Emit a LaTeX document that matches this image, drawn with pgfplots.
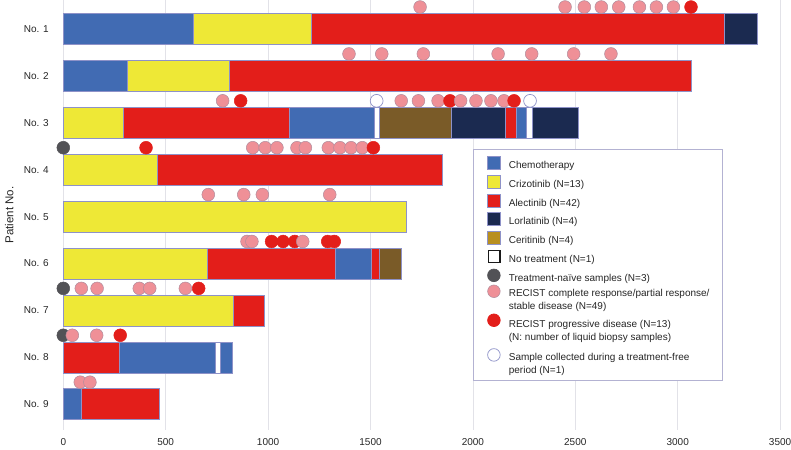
\documentclass[border=0pt]{standalone}
\usepackage{fontspec}
\setmainfont{Liberation Sans}
\usepackage{pgfplots}
\pgfplotsset{compat=1.18}
\usepackage{pgfplotstable}

\definecolor{cBlue}{HTML}{416BB3}
\definecolor{cYel}{HTML}{EEE836}
\definecolor{cRed}{HTML}{E31E1A}
\definecolor{cNavy}{HTML}{1B2A50}
\definecolor{cBrown}{HTML}{7A5B28}
\definecolor{cGold}{HTML}{B88F1F}
\definecolor{cPink}{HTML}{EF9097}
\definecolor{cPinkE}{HTML}{B08C9C}
\definecolor{cGray}{HTML}{525256}
\definecolor{cLine}{HTML}{8E92C8}
\definecolor{cGrid}{HTML}{E2E2E8}
\definecolor{cLeg}{HTML}{B3B2D2}

\pgfplotstableread{
x y c
1742 0.53 p
2450 0.53 p
2544 0.53 p
2627 0.53 p
2712 0.53 p
2813 0.53 p
2896 0.53 p
2979 0.53 p
3065 0.53 r
1395 1.53 p
1555 1.53 p
1758 1.53 p
2123 1.53 p
2287 1.53 p
2492 1.53 p
2674 1.53 p
778 2.53 p
866 2.53 r
1530 2.53 w
1650 2.53 p
1734 2.53 p
1830 2.53 p
1888 2.53 r
1940 2.53 p
2015 2.53 p
2088 2.53 p
2152 2.53 p
2201 2.53 r
2279 2.53 w
0 3.53 g
404 3.53 r
925 3.53 p
986 3.53 p
1043 3.53 p
1141 3.53 p
1182 3.53 p
1294 3.53 p
1351 3.53 p
1405 3.53 p
1460 3.53 p
1514 3.53 r
708 4.53 p
881 4.53 p
972 4.53 p
1301 4.53 p
897 5.53 p
921 5.53 p
1017 5.53 r
1073 5.53 r
1130 5.53 r
1169 5.53 p
1291 5.53 r
1323 5.53 r
0 6.53 g
88 6.53 p
165 6.53 p
371 6.53 p
422 6.53 p
596 6.53 p
661 6.53 r
0 7.53 g
44 7.53 p
163 7.53 p
278 7.53 r
83 8.53 p
130 8.53 p
}\samples

\begin{document}
\begin{tikzpicture}
\useasboundingbox (-63.3pt,-19pt) rectangle (727.7pt,430pt);
\begin{axis}[
  scale only axis, width=716.8pt, height=430pt,
  xmin=0, xmax=3500, ymin=0.38, ymax=9.55, y dir=reverse,
  clip=false,
  axis line style={draw=none},
  major tick length=0pt,
  xtick={0,500,...,3500},
  ytick={1,2,3,4,5,6,7,8,9},
  yticklabels={No. 1,No. 2,No. 3,No. 4,No. 5,No. 6,No. 7,No. 8,No. 9},
  xmajorgrids=true, ymajorgrids=false,
  grid style={draw=cGrid, line width=0.7pt},
  /pgf/number format/assume math mode=true,
  /pgf/number format/1000 sep={},
  tick label style={font=\fontsize{10}{12}\selectfont, text=black!85},
  xticklabel style={yshift=-4.5pt},
  yticklabel style={xshift=-11pt},
  ylabel={Patient No.},
  ylabel style={at={(axis description cs:-0.0755,0.5)}, anchor=center, rotate=0, font=\fontsize{11.5}{13}\selectfont, text=black!85},
  seg/.style={forget plot, draw=cLine, line width=0.55pt, mark=none},
  legend cell align=left,
  legend style={at={(axis cs:2000,3.56)}, anchor=north west, draw=cLeg, line width=0.7pt,
    inner xsep=11pt, inner ysep=4pt, row sep=0pt, column sep=6pt,
    font=\fontsize{10}{13}\selectfont, text=black!85,
    cells={anchor=west, inner sep=0pt, align=left}},
]
% No. 1
\addplot[seg, fill=cBlue] coordinates {(0,0.67) (637,0.67) (637,1.33) (0,1.33)} --cycle;
\addplot[seg, fill=cYel] coordinates {(637,0.67) (1211,0.67) (1211,1.33) (637,1.33)} --cycle;
\addplot[seg, fill=cRed] coordinates {(1211,0.67) (3228,0.67) (3228,1.33) (1211,1.33)} --cycle;
\addplot[seg, fill=cNavy] coordinates {(3228,0.67) (3387,0.67) (3387,1.33) (3228,1.33)} --cycle;
% No. 2
\addplot[seg, fill=cBlue] coordinates {(0,1.67) (313,1.67) (313,2.33) (0,2.33)} --cycle;
\addplot[seg, fill=cYel] coordinates {(313,1.67) (808,1.67) (808,2.33) (313,2.33)} --cycle;
\addplot[seg, fill=cRed] coordinates {(808,1.67) (3068,1.67) (3068,2.33) (808,2.33)} --cycle;
% No. 3
\addplot[seg, fill=cYel] coordinates {(0,2.67) (293,2.67) (293,3.33) (0,3.33)} --cycle;
\addplot[seg, fill=cRed] coordinates {(293,2.67) (1104,2.67) (1104,3.33) (293,3.33)} --cycle;
\addplot[seg, fill=cBlue] coordinates {(1104,2.67) (1519,2.67) (1519,3.33) (1104,3.33)} --cycle;
\addplot[seg, fill=white] coordinates {(1519,2.67) (1543,2.67) (1543,3.33) (1519,3.33)} --cycle;
\addplot[seg, fill=cBrown] coordinates {(1543,2.67) (1895,2.67) (1895,3.33) (1543,3.33)} --cycle;
\addplot[seg, fill=cNavy] coordinates {(1895,2.67) (2158,2.67) (2158,3.33) (1895,3.33)} --cycle;
\addplot[seg, fill=cRed] coordinates {(2158,2.67) (2211,2.67) (2211,3.33) (2158,3.33)} --cycle;
\addplot[seg, fill=cBlue] coordinates {(2211,2.67) (2263,2.67) (2263,3.33) (2211,3.33)} --cycle;
\addplot[seg, fill=white] coordinates {(2263,2.67) (2292,2.67) (2292,3.33) (2263,3.33)} --cycle;
\addplot[seg, fill=cNavy] coordinates {(2292,2.67) (2515,2.67) (2515,3.33) (2292,3.33)} --cycle;
% No. 4
\addplot[seg, fill=cYel] coordinates {(0,3.67) (461,3.67) (461,4.33) (0,4.33)} --cycle;
\addplot[seg, fill=cRed] coordinates {(461,3.67) (1851,3.67) (1851,4.33) (461,4.33)} --cycle;
% No. 5
\addplot[seg, fill=cYel] coordinates {(0,4.67) (1675,4.67) (1675,5.33) (0,5.33)} --cycle;
% No. 6
\addplot[seg, fill=cYel] coordinates {(0,5.67) (705,5.67) (705,6.33) (0,6.33)} --cycle;
\addplot[seg, fill=cRed] coordinates {(705,5.67) (1327,5.67) (1327,6.33) (705,6.33)} --cycle;
\addplot[seg, fill=cBlue] coordinates {(1327,5.67) (1506,5.67) (1506,6.33) (1327,6.33)} --cycle;
\addplot[seg, fill=cRed] coordinates {(1506,5.67) (1542,5.67) (1542,6.33) (1506,6.33)} --cycle;
\addplot[seg, fill=cBrown] coordinates {(1542,5.67) (1649,5.67) (1649,6.33) (1542,6.33)} --cycle;
% No. 7
\addplot[seg, fill=cYel] coordinates {(0,6.67) (832,6.67) (832,7.33) (0,7.33)} --cycle;
\addplot[seg, fill=cRed] coordinates {(832,6.67) (979,6.67) (979,7.33) (832,7.33)} --cycle;
% No. 8
\addplot[seg, fill=cRed] coordinates {(0,7.67) (272,7.67) (272,8.33) (0,8.33)} --cycle;
\addplot[seg, fill=cBlue] coordinates {(272,7.67) (742,7.67) (742,8.33) (272,8.33)} --cycle;
\addplot[seg, fill=white] coordinates {(742,7.67) (768,7.67) (768,8.33) (742,8.33)} --cycle;
\addplot[seg, fill=cBlue] coordinates {(768,7.67) (827,7.67) (827,8.33) (768,8.33)} --cycle;
% No. 9
\addplot[seg, fill=cBlue] coordinates {(0,8.67) (88,8.67) (88,9.33) (0,9.33)} --cycle;
\addplot[seg, fill=cRed] coordinates {(88,8.67) (471,8.67) (471,9.33) (88,9.33)} --cycle;
% samples
\addplot[forget plot, scatter, only marks, scatter src=explicit symbolic, mark size=6.4pt,
  scatter/classes={
    p={mark=*, draw=cPinkE, fill=cPink, line width=0.5pt},
    r={mark=*, draw=cRed, fill=cRed, line width=0.5pt},
    g={mark=*, draw=cGray, fill=cGray, line width=0.5pt},
    w={mark=*, draw=cLine, fill=white, line width=0.7pt}}]
  table[x=x, y=y, meta=c] {\samples};
% legend
\addlegendimage{legend image code/.code={\path (-3pt,0pt); \draw[fill=cBlue, draw=cLine, line width=0.5pt] (0pt,-6.5pt) rectangle (13pt,6.5pt);}}
\addlegendentry{\rule[-6.25pt]{0pt}{19.5pt}Chemotherapy}
\addlegendimage{legend image code/.code={\path (-3pt,0pt); \draw[fill=cYel, draw=cLine, line width=0.5pt] (0pt,-6.5pt) rectangle (13pt,6.5pt);}}
\addlegendentry{\rule[-6.25pt]{0pt}{19.5pt}Crizotinib (N=13)}
\addlegendimage{legend image code/.code={\path (-3pt,0pt); \draw[fill=cRed, draw=cLine, line width=0.5pt] (0pt,-6.5pt) rectangle (13pt,6.5pt);}}
\addlegendentry{\rule[-6.25pt]{0pt}{19.5pt}Alectinib (N=42)}
\addlegendimage{legend image code/.code={\path (-3pt,0pt); \draw[fill=cNavy, draw=cLine, line width=0.5pt] (0pt,-6.5pt) rectangle (13pt,6.5pt);}}
\addlegendentry{\rule[-6.25pt]{0pt}{19.5pt}Lorlatinib (N=4)}
\addlegendimage{legend image code/.code={\path (-3pt,0pt); \draw[fill=cGold, draw=cLine, line width=0.5pt] (0pt,-6.5pt) rectangle (13pt,6.5pt);}}
\addlegendentry{\rule[-6.25pt]{0pt}{19.5pt}Ceritinib (N=4)}
\addlegendimage{legend image code/.code={\path (-3pt,0pt); \draw[fill=white, draw=black!90, line width=1.3pt] (0.6pt,-5.9pt) rectangle (12.4pt,5.9pt);}}
\addlegendentry{\rule[-6.25pt]{0pt}{19.5pt}No treatment (N=1)}
\addlegendimage{legend image code/.code={\path (-3pt,0pt); \draw[fill=cGray, draw=cGray] (6.3pt,0pt) circle (6.3pt);}}
\addlegendentry{\rule[-6.25pt]{0pt}{19.5pt}Treatment-naïve samples (N=3)}
\addlegendimage{legend image code/.code={\path (-3pt,0pt); \draw[fill=cPink, draw=cPinkE, line width=0.5pt] (6.3pt,8.55pt) circle (6.3pt);}}
\addlegendentry{\rule{0pt}{8.1pt}RECIST complete response/partial response/\\stable disease (N=49)\rule[-5pt]{0pt}{5pt}}
\addlegendimage{legend image code/.code={\path (-3pt,0pt); \draw[fill=cRed, draw=cRed] (6.3pt,8.1pt) circle (6.3pt);}}
\addlegendentry{\rule{0pt}{12pt}RECIST progressive disease (N=13)\\(N: number of liquid biopsy samples)\rule[-8pt]{0pt}{8pt}}
\addlegendimage{legend image code/.code={\path (-3pt,0pt); \draw[fill=white, draw=cLine, line width=0.7pt] (6.3pt,5.3pt) circle (6.3pt);}}
\addlegendentry{\rule{0pt}{14.7pt}Sample collected during a treatment-free\\period (N=1)\rule[-5.1pt]{0pt}{5.1pt}}
\end{axis}
\end{tikzpicture}
\end{document}
